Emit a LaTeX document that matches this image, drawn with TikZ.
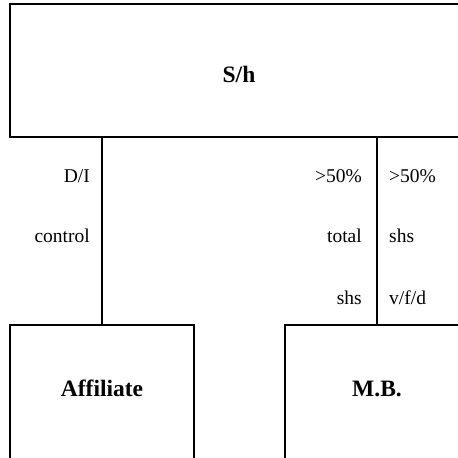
\documentclass[tikz,border=0pt]{standalone}
\usepackage{fontspec}
\setmainfont{Liberation Serif}
\begin{document}
\begin{tikzpicture}[x=1pt,y=-1pt,
  box/.style={draw=black, line width=1.6pt, rectangle, inner sep=0pt, outer sep=0pt},
  title/.style={font=\fontsize{23.5}{28}\selectfont\bfseries, inner sep=0pt},
  tag/.style={font=\fontsize{19.5}{23}\selectfont, inner sep=0pt},
  link/.style={draw=black, line width=1.6pt}]
  \useasboundingbox (0,0) rectangle (458,458);
  \clip (0,0) rectangle (458,458);

  % boxes (partly running off the page)
  \node[box, minimum width=458pt, minimum height=133pt] (sh) at (239,70.5) {};
  \node[box, minimum width=184pt, minimum height=138pt] (aff) at (102,394) {};
  \node[box, minimum width=184pt, minimum height=138pt] (mb) at (377,394) {};

  % box titles
  \node[title, anchor=base] (shT) at (239,82) {S/h};
  \node[title, anchor=base] (affT) at (102,396) {Af{}f{}iliate};
  \node[title, anchor=base] (mbT) at (377,396) {M.B.};

  % connectors
  \draw[link] (sh.south -| aff.north) -- (aff.north);
  \draw[link] (sh.south -| mb.north) -- (mb.north);

  % labels on the left connector
  \node[tag, anchor=base east] (l1) at (90,182.5) {D/I};
  \node[tag, anchor=base east] (l2) at (90,242.5) {control};

  % labels on the right connector
  \node[tag, anchor=base east] (r1) at (362,182.5) {>50\%};
  \node[tag, anchor=base east] (r2) at (362,242.5) {total};
  \node[tag, anchor=base east] (r3) at (362,304.5) {shs};
  \node[tag, anchor=base west] (s1) at (389,182.5) {>50\%};
  \node[tag, anchor=base west] (s2) at (389,242.5) {shs};
  \node[tag, anchor=base west] (s3) at (389,304.5) {v/f/d};
\end{tikzpicture}
\end{document}
